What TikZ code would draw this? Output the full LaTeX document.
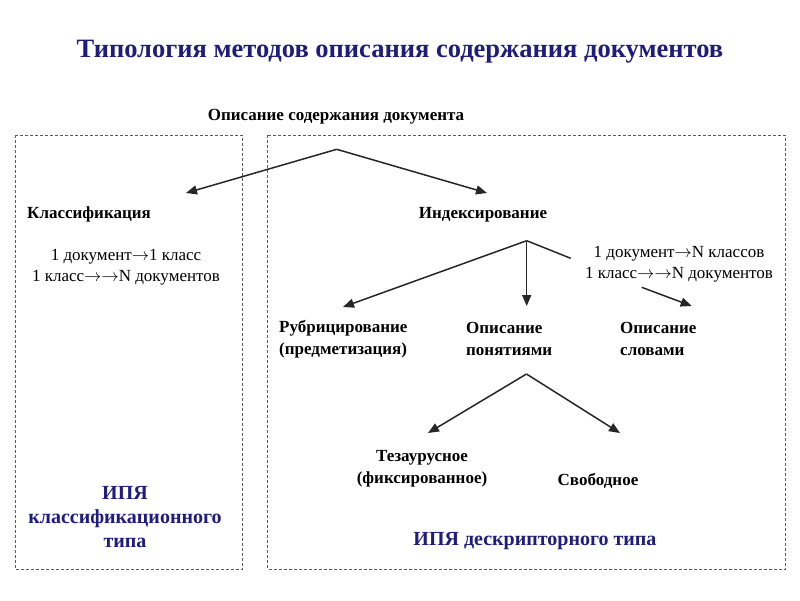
\documentclass[tikz,border=0pt]{standalone}
\usepackage{fontspec}
\setmainfont{Liberation Serif}
\newcommand{\ar}{\ensuremath{\rightarrow}}
\newcommand{\arr}{\ensuremath{\rightarrow\rightarrow}}
\usetikzlibrary{arrows.meta}
\definecolor{navy}{RGB}{30,28,125}
\tikzset{
  lbl/.style={font=\bfseries\fontsize{17}{22}\selectfont, inner sep=0pt, align=center},
  lblw/.style={lbl, anchor=west, align=left},
  rel/.style={font=\fontsize{17}{20.5}\selectfont, inner sep=0pt, align=center},
  blu/.style={font=\bfseries\fontsize{20}{24}\selectfont, text=navy, inner sep=0pt, align=center},
  arrw/.style={-{Triangle[length=11pt,width=9pt]}, line width=1.5pt, draw=black!85},
  ln/.style={line width=1.5pt, draw=black!85},
  frame/.style={draw=black!65, dash pattern=on 3pt off 2pt, line width=1pt}
}
\begin{document}
\begin{tikzpicture}[x=1pt,y=-1pt]
\useasboundingbox (0,0) rectangle (800,600);
% frames
\draw[frame] (15,135) rectangle (242.5,569);
\draw[frame] (267.5,135) rectangle (785,569);
% title
\node[font=\bfseries\fontsize{26.5}{30}\selectfont, text=navy, inner sep=0pt] (title) at (400,52) {Типология методов описания содержания документов};
% nodes
\node[lbl] (top) at (336,117) {Описание содержания документа};
\node[lblw] (klass) at (27,214) {Классификация};
\node[rel] (krel) at (126,267) {1 документ\ar1 класс\\1 класс\arr N документов};
\node[lbl] (index) at (483,215) {Индексирование};
\node[rel] (irel) at (679,264) {1 документ\ar N классов\\1 класс\arr N документов};
\node[lblw] (rubr) at (279,339) {Рубрицирование\\(предметизация)};
\node[lblw] (ponyat) at (466,339) {Описание\\понятиями};
\node[lblw] (slov) at (620,339) {Описание\\словами};
\node[lbl] (tez) at (422,469) {Тезаурусное\\(фиксированное)};
\node[lbl] (svob) at (598,481) {Свободное};
\node[blu] (ipyad) at (535,541) {ИПЯ дескрипторного типа};
\node[blu] (ipyak) at (125,517) {ИПЯ\\классификационного\\типа};
% coordinates
\coordinate (a1) at (336.7,149.3);
\coordinate (t1) at (186,193);
\coordinate (t2) at (487,193);
\coordinate (a2) at (526.7,240.7);
\coordinate (t3) at (343,307);
\coordinate (t4) at (526.7,306);
\coordinate (c1) at (570.7,258.3);
\coordinate (c2) at (641.7,287.3);
\coordinate (t5) at (691.7,306);
\coordinate (a3) at (526.5,374);
\coordinate (t6) at (428,433);
\coordinate (t7) at (620,433);
% connectors
\draw[arrw] (a1) -- (t1);
\draw[arrw] (a1) -- (t2);
\draw[arrw] (a2) -- (t3);
\draw[arrw] (a2) -- (t4);
\draw[ln] (a2) -- (c1);
\draw[arrw] (c2) -- (t5);
\draw[arrw] (a3) -- (t6);
\draw[arrw] (a3) -- (t7);
\end{tikzpicture}
\end{document}
